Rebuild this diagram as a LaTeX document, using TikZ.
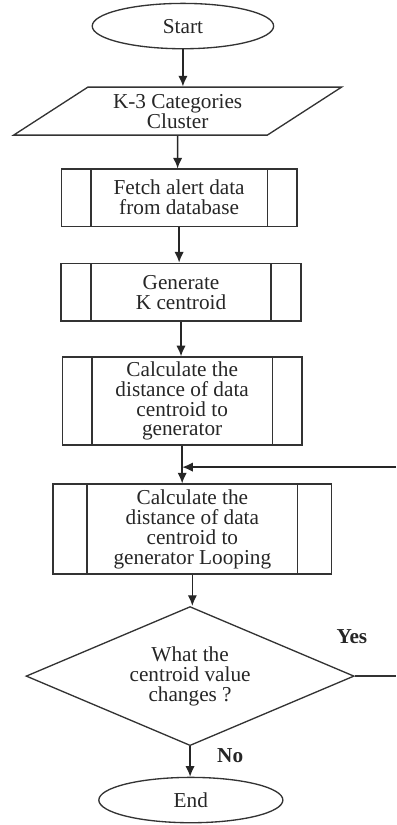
\documentclass[tikz,border=0pt]{standalone}
\usepackage{fontspec}
\setmainfont{Liberation Serif}
\usetikzlibrary{shapes.geometric, arrows.meta}

\begin{document}
\begin{tikzpicture}[
    every node/.style={font=\fontsize{16}{15}\selectfont, text=black!85},
    term/.style={ellipse, draw=black!80, line width=1pt, minimum width=4.8cm, minimum height=1.2cm},
    io/.style={trapezium, trapezium left angle=37, trapezium right angle=143, trapezium stretches=true, draw=black!80, line width=1pt, align=center, minimum height=1.27cm, minimum width=8.7cm},
    proc/.style={rectangle, draw=black!80, line width=1pt, align=center, minimum width=6.35cm, path picture={
        \draw[black!80, line width=1pt] ([xshift=#1]path picture bounding box.north west) -- ([xshift=#1]path picture bounding box.south west);
        \draw[black!80, line width=1pt] ([xshift=-#1]path picture bounding box.north east) -- ([xshift=-#1]path picture bounding box.south east);}},
    proc/.default=0.79cm,
    decision/.style={diamond, aspect=2.36, draw=black!80, line width=1pt, align=center, inner sep=0pt, minimum width=8.68cm, minimum height=3.68cm},
    answer/.style={font=\fontsize{16}{15}\selectfont\bfseries},
    arrow/.style={-{Latex[length=8pt, width=7pt]}, black!85, line width=1pt}
]
    \useasboundingbox (0,0) rectangle (10.48,-21.83);

    \node[term] (start) at (4.84,-0.69) {Start};
    \node[io] (cluster) at (4.70,-2.94) {K-3 Categories\\Cluster};
    \node[proc, minimum width=6.24cm, minimum height=1.51cm] (fetch) at (4.74,-5.23) {Fetch alert data\\from database};
    \node[proc, minimum height=1.53cm] (gen) at (4.79,-7.73) {Generate\\K centroid};
    \node[proc, minimum height=2.28cm] (dist) at (4.82,-10.61) {Calculate the\\distance of data\\centroid to\\generator};
    \node[proc=0.9cm, minimum width=7.38cm, minimum height=2.38cm] (loop) at (5.09,-14.00) {Calculate the\\distance of data\\centroid to\\generator Looping};
    \node[decision] (check) at (5.03,-17.89) {What the\\centroid value\\changes ?};
    \node[term, minimum width=4.87cm] (end) at (5.05,-21.17) {End};

    \node[answer] (yes) at (9.31,-16.85) {Yes};
    \node[answer] (no) at (6.09,-20.00) {No};

    \coordinate (yesout) at (10.48,-17.89);
    \coordinate (loopin) at (10.48,-12.36);

    \draw[arrow] (start) -- (start |- cluster.north);
    \draw[arrow] (cluster) -- (cluster |- fetch.north);
    \draw[arrow] (fetch) -- (fetch |- gen.north);
    \draw[arrow] (gen) -- (gen |- dist.north);
    \draw[arrow] (dist) -- (dist |- loop.north);
    \draw[arrow] (loopin) -- (dist |- loopin);
    \draw[arrow] (loop) -- (loop |- check.north);
    \draw[black!80, line width=1pt] (check) -- (yesout);
    \draw[arrow] (check) -- (check |- end.north);
\end{tikzpicture}
\end{document}
